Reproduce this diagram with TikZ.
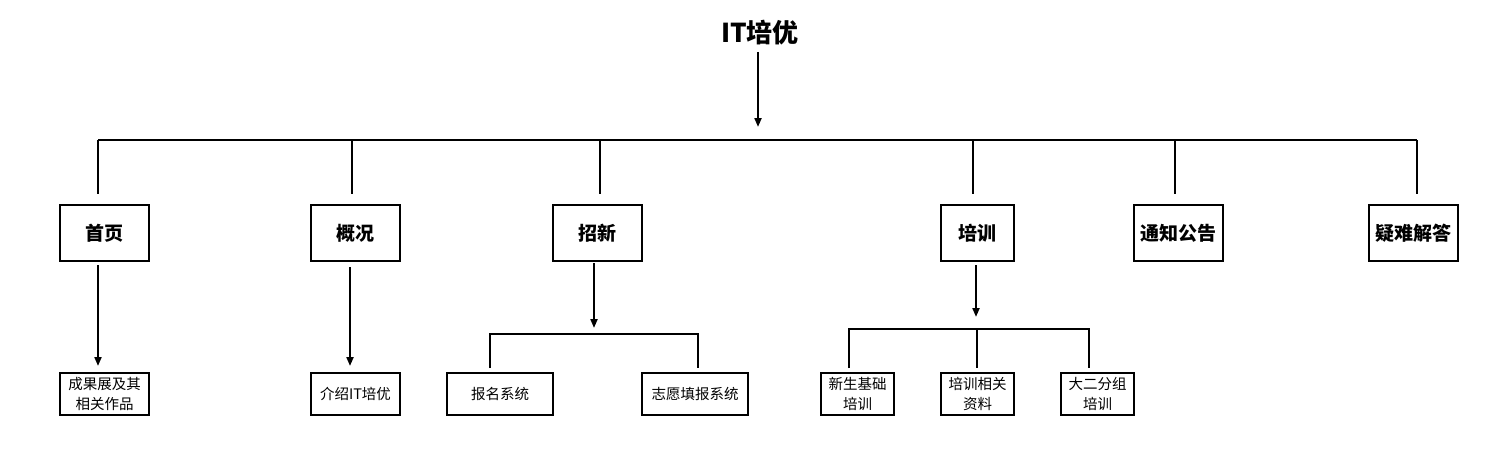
\documentclass[tikz,border=0pt]{standalone}
\usepackage{fontspec}
\setmainfont{Noto Sans CJK SC}
\usetikzlibrary{arrows.meta}
\begin{document}
\begin{tikzpicture}[x=1pt,y=-1pt,
  line width=2pt,
  lvone/.style={draw,line width=2pt,inner sep=0pt,minimum height=56pt,font=\fontsize{19}{22}\selectfont\bfseries},
  lvtwo/.style={draw,line width=2pt,inner sep=0pt,minimum height=42pt,align=center,font=\fontsize{14.5}{19.5}\selectfont},
  arr/.style={-{Triangle[length=9pt,width=7pt]}},
  conn/.style={line width=2pt}]
\useasboundingbox[fill=white] (0,0) rectangle (1501,460);
% title
\node[font=\fontsize{26}{30}\selectfont\bfseries,inner sep=0pt] (root) at (760,33) {IT培优};
% level one
\node[lvone,minimum width=89pt] (shouye) at (104.5,233) {首页};
\node[lvone,minimum width=89pt] (gaikuang) at (355.5,233) {概况};
\node[lvone,minimum width=89pt] (zhaoxin) at (597.5,233) {招新};
\node[lvone,minimum width=73pt] (peixun) at (977.5,233) {培训};
\node[lvone,minimum width=89pt] (tongzhi) at (1178.5,233) {通知公告};
\node[lvone,minimum width=89pt] (yinan) at (1413.5,233) {疑难解答};
% level two
\node[lvtwo,minimum width=89pt] (chengguo) at (104.5,394) {成果展及其\\相关作品};
\node[lvtwo,minimum width=89pt] (jieshao) at (355.5,394) {介绍IT培优};
\node[lvtwo,minimum width=106pt] (baoming) at (500,394) {报名系统};
\node[lvtwo,minimum width=106pt] (zhiyuan) at (695,394) {志愿填报系统};
\node[lvtwo,minimum width=73pt] (xinsheng) at (857.5,394) {新生基础\\培训};
\node[lvtwo,minimum width=73pt] (ziliao) at (977.5,394) {培训相关\\资料};
\node[lvtwo,minimum width=73pt] (daer) at (1097.5,394) {大二分组\\培训};
% coordinates
\coordinate (rootout) at (758,52);
\coordinate (rootin) at (758,127);
\coordinate (busL) at (98,140);
\coordinate (busR) at (1417,140);
\coordinate (b1) at (98,140);   \coordinate (e1) at (98,194);
\coordinate (b2) at (352,140);  \coordinate (e2) at (352,194);
\coordinate (b3) at (600,140);  \coordinate (e3) at (600,194);
\coordinate (b4) at (973,140);  \coordinate (e4) at (973,194);
\coordinate (b5) at (1175,140); \coordinate (e5) at (1175,194);
\coordinate (b6) at (1417,140); \coordinate (e6) at (1417,194);
% top
\draw[arr] (rootout) -- (rootin);
\draw[conn] (busL) -- (busR);
\foreach \i in {1,...,6} {\draw[conn] (b\i) -- (e\i);}
% 首页 / 概况
\coordinate (s1) at (98,265);  \coordinate (t1) at (98,366);
\coordinate (s2) at (350,267); \coordinate (t2) at (350,366);
\draw[arr] (s1) -- (t1);
\draw[arr] (s2) -- (t2);
% 招新
\coordinate (zs) at (594,263); \coordinate (zt) at (594,328);
\draw[arr] (zs) -- (zt);
\coordinate (zbL) at (490,334); \coordinate (zbR) at (698,334);
\coordinate (zeL) at (490,368); \coordinate (zeR) at (698,368);
\draw[conn] (zeL) -- (zbL) -- (zbR) -- (zeR);
% 培训
\coordinate (ps) at (976,265); \coordinate (pt) at (976,317);
\draw[arr] (ps) -- (pt);
\coordinate (pbL) at (849,329); \coordinate (pbM) at (977,329); \coordinate (pbR) at (1089,329);
\coordinate (peL) at (849,368); \coordinate (peM) at (977,368); \coordinate (peR) at (1089,368);
\draw[conn] (peL) -- (pbL) -- (pbR) -- (peR);
\draw[conn] (pbM) -- (peM);
\end{tikzpicture}
\end{document}
